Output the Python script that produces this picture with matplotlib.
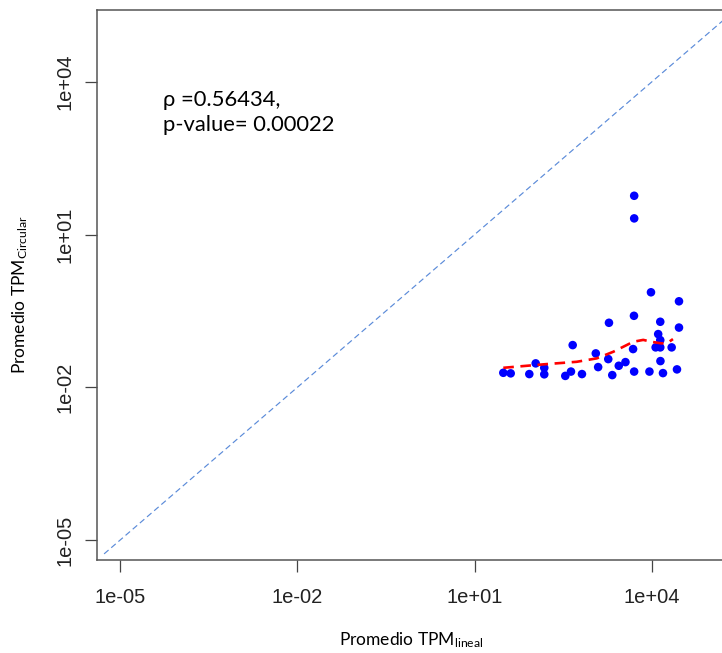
import matplotlib
matplotlib.use("Agg")
import matplotlib.pyplot as plt
import numpy as np

# --- DATA FROM IMAGE (log10 of average TPM) ---
log_tpm_lineal = np.array([
    1.486, 1.611, 1.926, 2.034, 2.179, 2.179, 2.535, 2.631, 2.660, 2.817,
    3.051, 3.091, 3.262, 3.274, 3.330, 3.440, 3.553, 3.682, 3.697, 3.700,
    3.701, 3.701, 3.959, 3.985, 4.107, 4.142, 4.142, 4.064, 4.142, 4.145,
    4.188, 4.335, 4.425, 4.459, 4.459])
log_tpm_circular = np.array([
    -1.714, -1.725, -1.739, -1.529, -1.616, -1.744, -1.775, -1.690, -1.170, -1.739,
    -1.333, -1.602, -1.445, -0.732, -1.759, -1.576, -1.504, -1.248, -0.595, -1.690,
    1.762, 1.318, -1.690, -0.133, -0.954, -0.712, -1.072, -1.215, -1.215, -1.484,
    -1.720, -1.215, -1.647, -0.310, -0.826])

# lowess smooth (red dashed)
log_smooth_x = np.array([1.486, 1.824, 2.220, 2.728, 3.066, 3.347, 3.685, 3.854,
                         4.002, 4.166, 4.277, 4.357])
log_smooth_y = np.array([-1.616, -1.582, -1.543, -1.498, -1.431, -1.301, -1.105,
                         -1.068, -1.107, -1.137, -1.117, -1.052])

# identity line range
log_diag = np.array([-5.27, 5.6])

tick_vals = [1e-05, 1e-02, 1e+01, 1e+04]
tick_labels = ["1e-05", "1e-02", "1e+01", "1e+04"]

rho_text = "\u03c1 =0.56434,\np-value= 0.00022"

plt.rcParams['font.family'] = ['Liberation Sans', 'DejaVu Sans']
plt.rcParams['mathtext.fontset'] = 'custom'
plt.rcParams['mathtext.rm'] = 'Lato'
plt.rcParams['mathtext.it'] = 'Lato:italic'
plt.rcParams['mathtext.bf'] = 'Lato:bold'

fig = plt.figure(figsize=(7.22, 6.53), dpi=100)
ax = fig.add_axes([97 / 722, 93 / 653, 637 / 722, 550 / 653])

ax.set_xscale('log')
ax.set_yscale('log')

ax.plot(10 ** log_diag, 10 ** log_diag, color='#5b8bd9', lw=0.85,
        dashes=(5, 3), zorder=1)
ax.scatter(10 ** log_tpm_lineal, 10 ** log_tpm_circular, s=38, color='#0000ff',
           edgecolors='none', zorder=3)
ax.plot(10 ** log_smooth_x, 10 ** log_smooth_y, color='#ff0000', lw=1.9,
        dashes=(4, 2.5), zorder=4)

ax.set_xlim(10 ** -5.39, 10 ** 5.39)
ax.set_ylim(10 ** -5.39, 10 ** 5.41)

ax.set_xticks(tick_vals)
ax.set_xticklabels(tick_labels)
ax.set_yticks(tick_vals)
ax.set_yticklabels(tick_labels, rotation=90, va='center')
ax.minorticks_off()
ax.tick_params(axis='both', length=8.5, width=0.9, color='#444444',
               labelsize=14.5, labelcolor='#222222')
ax.tick_params(axis='x', pad=12)
ax.tick_params(axis='y', pad=8)

for sp in ax.spines.values():
    sp.set_color('#555555')
    sp.set_linewidth(1.1)

ax.text(10 ** -4.27, 10 ** 3.40, rho_text, fontsize=15.8, linespacing=1.35,
        family=['Lato', 'DejaVu Sans'], va='center', ha='left', color='black')

fig.text(411 / 722, 1 - 640 / 653, r'Promedio TPM$_{\mathrm{lineal}}$',
         family=['Lato', 'DejaVu Sans'], fontsize=12.5, ha='center', va='center')
fig.text(20 / 722, 1 - 295 / 653, r'Promedio TPM$_{\mathrm{Circular}}$',
         family=['Lato', 'DejaVu Sans'], fontsize=12.5, ha='center', va='center',
         rotation=90)

plt.savefig('out.png', dpi=100)
